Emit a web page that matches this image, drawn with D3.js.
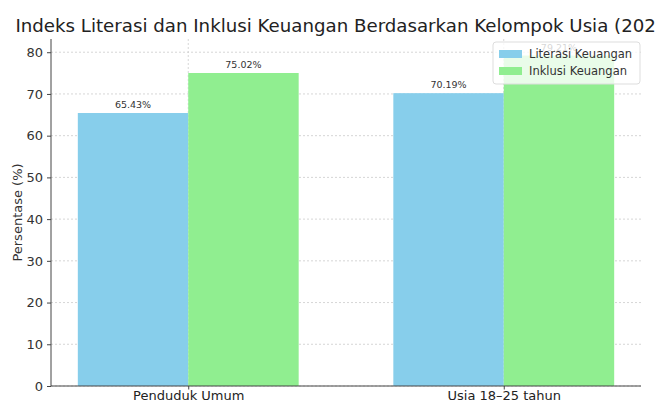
<!DOCTYPE html>
<meta charset="utf-8">
<style>
body { margin: 0; background: #fff; }
svg { font-family: "DejaVu Sans", sans-serif; }
.grid line { stroke: #ccc; stroke-width: 0.8px; stroke-dasharray: 2,2; }
</style>
<svg width="656" height="401"></svg>
<script src="https://d3js.org/d3.v7.min.js"></script>
<script>
// data
var categories = ["Penduduk Umum", "Usia 18\u201325 tahun"];
var literasi = [65.43, 70.19];
var inklusi = [75.02, 79.21];
var seriesNames = ["Literasi Keuangan", "Inklusi Keuangan"];
var yTicks = [0, 10, 20, 30, 40, 50, 60, 70, 80];

var svg = d3.select("svg");
var mLeft = 51, mRight = 641, mTop = 39, mBottom = 386;
var colors = ["#87CEEB", "#90EE90"];
var barW = 0.35;

// x in matplotlib-like units: categories at 0,1
var x = d3.scaleLinear().domain([-0.435, 1.435]).range([mLeft, mRight]);
var y = d3.scaleLinear().domain([0, 83.17]).range([mBottom, mTop]);

// grid
var grid = svg.append("g").attr("class", "grid");
grid.selectAll(".h").data(yTicks).enter().append("line")
  .attr("x1", mLeft).attr("x2", mRight)
  .attr("y1", function(d) { return y(d); }).attr("y2", function(d) { return y(d); });
grid.selectAll(".v").data(categories).enter().append("line")
  .attr("x1", function(d, i) { return x(i); }).attr("x2", function(d, i) { return x(i); })
  .attr("y1", mTop).attr("y2", mBottom);

// bars
var series = [literasi, inklusi];
series.forEach(function(vals, s) {
  var g = svg.append("g");
  g.selectAll("rect").data(vals).enter().append("rect")
    .attr("x", function(d, i) { return x(i - barW + s * barW); })
    .attr("width", function() { return x(barW) - x(0); })
    .attr("y", function(d) { return y(d); })
    .attr("height", function(d) { return mBottom - y(d); })
    .attr("fill", colors[s]);
  g.selectAll("text").data(vals).enter().append("text")
    .attr("x", function(d, i) { return x(i - barW / 2 + s * barW); })
    .attr("y", function(d) { return y(d) - 5; })
    .attr("text-anchor", "middle")
    .attr("font-size", 9.5)
    .attr("fill", "#333")
    .text(function(d) { return d.toFixed(2) + "%"; });
});

// axes
var yAxis = d3.axisLeft(y).tickValues(yTicks).tickSize(4).tickPadding(4);
var ya = svg.append("g").attr("transform", "translate(" + mLeft + ",0)").call(yAxis);
ya.select(".domain").attr("d", "M0," + mTop + "V" + mBottom).attr("stroke", "#444");
ya.selectAll(".tick line").attr("stroke", "#444");
ya.selectAll("text").attr("font-size", 13).attr("fill", "#333").attr("font-family", "DejaVu Sans");

var xAxis = d3.axisBottom(x).tickValues([0, 1]).tickSize(3.5).tickPadding(1.3)
  .tickFormat(function(d) { return categories[d]; });
var xa = svg.append("g").attr("transform", "translate(0," + mBottom + ")").call(xAxis);
xa.select(".domain").attr("d", "M" + mLeft + ",0H" + mRight).attr("stroke", "#444");
xa.selectAll(".tick line").attr("stroke", "#444");
xa.selectAll("text").attr("font-size", 13).attr("fill", "#222").attr("font-family", "DejaVu Sans");

// y label
svg.append("text")
  .attr("transform", "translate(22," + ((mTop + mBottom) / 2) + ") rotate(-90)")
  .attr("text-anchor", "middle")
  .attr("font-size", 13)
  .attr("fill", "#333")
  .text("Persentase (%)");

// title
svg.append("text")
  .attr("x", 345)
  .attr("y", 32)
  .attr("text-anchor", "middle")
  .attr("font-size", 18.2)
  .attr("fill", "#222")
  .text("Indeks Literasi dan Inklusi Keuangan Berdasarkan Kelompok Usia (2025)");

// legend
var lg = svg.append("g").attr("transform", "translate(493,42)");
lg.append("rect").attr("width", 147).attr("height", 42).attr("rx", 3)
  .attr("fill", "rgba(255,255,255,0.8)").attr("stroke", "#ddd");
seriesNames.forEach(function(n, i) {
  lg.append("rect").attr("x", 6).attr("y", 8 + i * 17).attr("width", 23).attr("height", 8)
    .attr("fill", colors[i]);
  lg.append("text").attr("x", 36).attr("y", 16 + i * 17)
    .attr("font-size", 11.5).attr("fill", "#333").text(n);
});
</script>
